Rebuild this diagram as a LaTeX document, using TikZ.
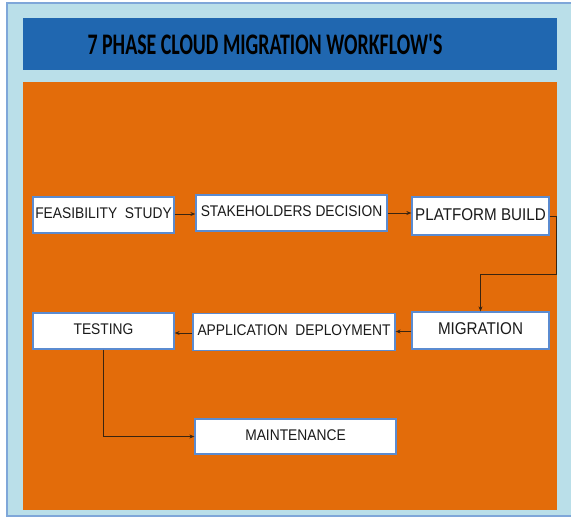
\documentclass[tikz,border=0pt]{standalone}
\usepackage{fontspec}
\setmainfont{Liberation Sans}
\newfontfamily\titlefont{Carlito}
\usetikzlibrary{arrows.meta}
\definecolor{bgblue}{HTML}{BADFE9}
\definecolor{edgeblue}{HTML}{7FA7D9}
\definecolor{barblue}{HTML}{2067B0}
\definecolor{panelorange}{HTML}{E36C0A}
\definecolor{boxedge}{HTML}{5B8BD0}
\definecolor{arrowcol}{HTML}{3A2410}
\definecolor{txt}{HTML}{1A1A1A}
\tikzset{
  phase/.style={draw=boxedge, line width=1.3pt, fill=white, inner sep=0pt,
    text=txt, font=\fontsize{13.8}{14}\selectfont},
  bigphase/.style={phase, font=\fontsize{15.2}{16}\selectfont},
  link/.style={draw=arrowcol, line width=1pt, -{Stealth[length=5pt,width=4pt]}},
}
\newcommand{\tallt}[1]{\raisebox{3pt}{\scalebox{1}[1.12]{#1}}}
\begin{document}
\begin{tikzpicture}[x=1pt,y=-1pt]
\useasboundingbox (0,0) rectangle (571,517);
\fill[white] (0,0) rectangle (571,517);
\draw[fill=bgblue, draw=edgeblue, line width=1.2pt] (7,3) rectangle (580,516);
\fill[barblue] (23,18) rectangle (557,70);
\fill[panelorange] (23,82) rectangle (557,510);
\node[text=black, inner sep=0pt] (title) at (265,44)
  {\scalebox{1}[1.5]{\titlefont\bfseries\fontsize{19.9}{20}\selectfont 7 PHASE CLOUD MIGRATION WORKFLOW'S}};

\node[phase, minimum width=141pt, minimum height=36pt] (feas) at (103.5,215) {\tallt{FEASIBILITY\ \ STUDY}};
\node[phase, minimum width=191pt, minimum height=36pt] (stake) at (291.5,213) {\tallt{STAKEHOLDERS DECISION}};
\node[bigphase, minimum width=137pt, minimum height=38pt] (plat) at (480.5,216) {\tallt{PLATFORM BUILD}};
\node[bigphase, minimum width=137pt, minimum height=37pt] (mig) at (480.5,330.5) {\tallt{MIGRATION}};
\node[phase, minimum width=202pt, minimum height=37pt] (app) at (294,332) {\tallt{APPLICATION\ \ DEPLOYMENT}};
\node[phase, minimum width=141pt, minimum height=36pt] (test) at (103.5,331) {\tallt{TESTING}};
\node[phase, minimum width=201pt, minimum height=35pt] (maint) at (295.5,436.5) {\tallt{MAINTENANCE}};

\coordinate (turn) at (556,274);
\draw[link] ([yshift=1pt]feas.east) -- ([yshift=1pt]feas.east -| stake.west);
\draw[link] (stake.east) -- (stake.east -| plat.west);
\draw[link] (plat.east) -| (turn) -| (mig.north);
\draw[link] ([yshift=-1pt]mig.west) -- ([yshift=-1pt]mig.west -| app.east);
\draw[link] ([yshift=-1pt]app.west) -- ([yshift=-1pt]app.west -| test.east);
\draw[link] (test.south) |- (maint.west);
\end{tikzpicture}
\end{document}
